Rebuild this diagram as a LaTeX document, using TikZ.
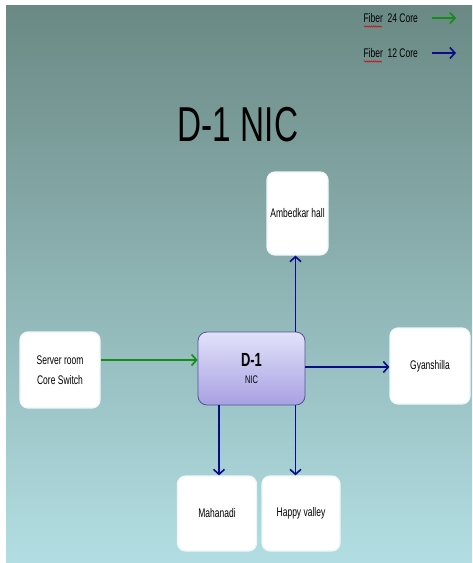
\documentclass[tikz,border=0pt]{standalone}
\usepackage{fontspec}
\setmainfont{Liberation Sans}[FakeStretch=0.68]
\usetikzlibrary{arrows.meta,decorations.pathmorphing}
\definecolor{bgtop}{RGB}{106,137,132}
\definecolor{bgbottom}{RGB}{178,222,227}
\definecolor{fibergreen}{RGB}{22,140,22}
\definecolor{fiberblue}{RGB}{12,12,138}
\definecolor{hubtop}{RGB}{226,226,250}
\definecolor{hubbottom}{RGB}{168,160,226}
\definecolor{hubline}{RGB}{82,82,150}

\begin{document}
\begin{tikzpicture}[x=1pt,y=-1pt,
    site/.style ={rectangle, rounded corners=8pt, fill=white, draw=white!75!bgbottom,
                  line width=1.2pt, align=center, font=\fontsize{12.5}{20}\selectfont},
    hub/.style  ={rectangle, rounded corners=9pt, top color=hubtop, bottom color=hubbottom,
                  draw=hubline, line width=0.8pt, align=center,
                  minimum width=107pt, minimum height=73pt},
    core24/.style={draw=fibergreen, line width=1.6pt, -{Straight Barb[length=5pt,width=11pt,line width=1.6pt]}},
    core12/.style={draw=fiberblue, line width=1.6pt, -{Straight Barb[length=5pt,width=11pt,line width=1.6pt]}}]
   \useasboundingbox (0,0) rectangle (472,563);
   \shade[top color=bgtop, bottom color=bgbottom] (6,5) rectangle (472,563);

   % legend
   \node (legend24) [anchor=west, font=\fontsize{12.5}{14}\selectfont] at (360,18) {Fiber\ \ 24 Core};
   \node (legend12) [anchor=west, font=\fontsize{12.5}{14}\selectfont] at (360,53) {Fiber\ \ 12 Core};
   \coordinate (a24) at (432,18);
   \coordinate (b24) at (456,18);
   \coordinate (a12) at (432,53);
   \coordinate (b12) at (456,53);
   \draw[core24] (a24) -- (b24);
   \draw[core12] (a12) -- (b12);
   \draw[red!85!black, line width=0.5pt, decorate,
         decoration={snake, amplitude=0.7pt, segment length=2.2pt}] (364,26.5) -- (382,26.5);
   \draw[red!85!black, line width=0.5pt, decorate,
         decoration={snake, amplitude=0.7pt, segment length=2.2pt}] (364,61.5) -- (382,61.5);

   \node (title) [font=\fontsize{49}{50}\selectfont] at (238,125) {D-1 NIC};

   \node[site, minimum width=80pt, minimum height=76pt] (server) at (60,370) {Server room\\Core Switch};
   \node[hub] (nic) at (251.5,368.5) {{\fontsize{19}{22}\selectfont\bfseries D-1}\\[5pt]{\fontsize{11}{14}\selectfont NIC}};
   \node[site, minimum width=80pt, minimum height=76pt] (gyan) at (430,366) {Gyanshilla};
   \node[site, minimum width=61pt, minimum height=83pt] (ambed) at (297.5,213.5) {Ambedkar hall};
   \node[site, minimum width=79pt, minimum height=75pt] (mahanadi) at (217,513.5) {Mahanadi};
   \node[site, minimum width=78pt, minimum height=75pt] (happy) at (301,513.5) {Happy valley};

   \draw[core24] ([yshift=10pt]server.east) -- ([yshift=8.5pt]nic.west);
   \draw[core12] ([yshift=1.5pt]nic.east) -- ([yshift=1.5pt]nic.east -| gyan.west);
   \draw[core12] ([xshift=-2pt]ambed.south |- nic.north) -- ([xshift=-2pt]ambed.south);
   \draw[core12] ([xshift=2pt]mahanadi.north |- nic.south) -- ([xshift=2pt]mahanadi.north);
   \draw[core12] ([xshift=-2pt]ambed.south |- nic.south) -- ([xshift=-2pt]ambed.south |- happy.north);
 \end{tikzpicture}
\end{document}
